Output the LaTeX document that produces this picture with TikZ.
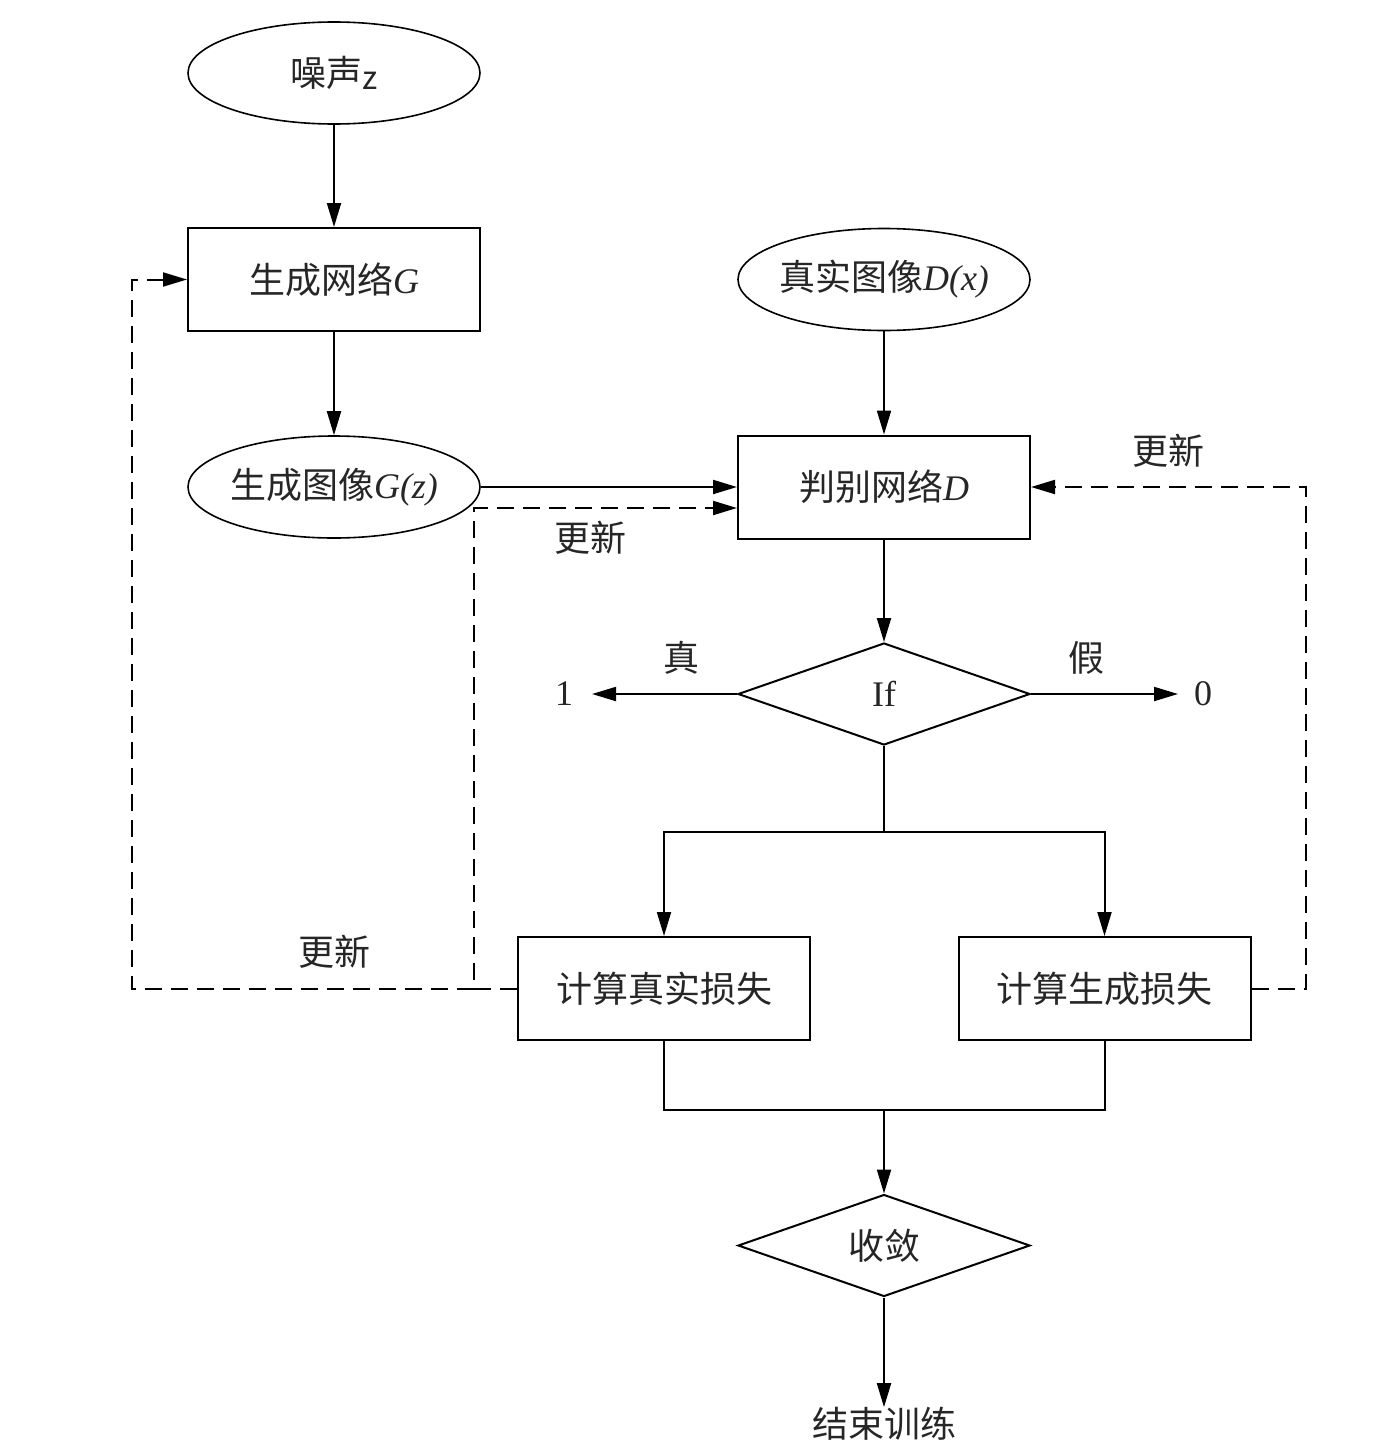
\documentclass[tikz,border=0pt]{standalone}
\usepackage{fontspec}
\setmainfont{Liberation Serif}
\newfontfamily\cjk{Noto Sans CJK SC}
\usetikzlibrary{shapes.geometric,arrows.meta}
\definecolor{txt}{gray}{0.15}
\begin{document}
\begin{tikzpicture}[x=1pt,y=-1pt,
  every node/.style={font=\fontsize{36}{42}\selectfont, text=txt},
  line/.style={line width=2pt},
  arr/.style={line, -{Triangle[length=24pt,width=14pt]}},
  dsh/.style={line, dash pattern=on 17pt off 9pt},
  darr/.style={dsh, -{Triangle[length=24pt,width=14pt]}},
  ell/.style={draw, line width=1.6pt, ellipse, minimum width=292pt, minimum height=102pt, inner sep=0pt, inner xsep=-4pt},
  box/.style={draw, line width=2pt, rectangle, minimum width=292pt, minimum height=103pt, inner sep=0pt},
  dia/.style={draw, line width=2pt, diamond, aspect=2.86, minimum width=292pt, minimum height=102pt, inner sep=0pt},
  lab/.style={inner sep=0pt}]
\useasboundingbox (0,0) rectangle (1380,1456);

\node[ell] (n) at (334,73) {{\cjk 噪声}{\cjk\fontsize{32}{38}\selectfont\raisebox{-3pt}{z}}};
\node[box] (g) at (334,279.5) {{\cjk 生成网络}\textit{G}};
\node[ell] (gz) at (334,487) {{\cjk 生成图像}\textit{G(z)}};
\node[ell] (dx) at (884,279.5) {{\cjk 真实图像}\textit{D(x)}};
\node[box] (j) at (884,487) {{\cjk 判别网络}\textit{D}};
\node[dia] (if) at (884,694) {If};
\node[box] (r) at (664,988.5) {\cjk 计算真实损失};
\node[box] (f) at (1104.5,988.5) {\cjk 计算生成损失};
\node[dia] (c) at (884,1245.5) {\cjk 收敛};
\node[lab] (e) at (884,1424) {\cjk 结束训练};

\node[lab] (one) at (564,694) {1};
\node[lab] (zero) at (1203,694) {0};
\node[lab] (lt) at (681,658) {\cjk 真};
\node[lab] (lf) at (1086,658) {\cjk 假};
\node[lab] (u1) at (590,538) {\cjk 更新};
\node[lab] (u2) at (334,952) {\cjk 更新};
\node[lab] (u3) at (1168,451) {\cjk 更新};

\coordinate (t1) at (592,694);
\coordinate (t0) at (1178,694);
\coordinate (b1) at (474,988.5);
\coordinate (b2) at (132,988.5);
\coordinate (b3) at (1306,988.5);
\coordinate (s) at (884,832);
\coordinate (m) at (884,1110);

\draw[arr] (n) -- (g);
\draw[arr] (g) -- (gz);
\draw[arr] (dx) -- (j);
\draw[arr] (gz.east) -- (j.west);
\draw[arr] (j) -- (if);
\draw[arr] (if.west) -- (t1);
\draw[arr] (if.east) -- (t0);
\draw[line] (if.south) -- (s);
\draw[arr] (s) -| (r.north);
\draw[arr] (s) -| (f.north);
\draw[line] (r.south) |- (m) -| (f.south);
\draw[arr] (m) -- (c.north);
\draw[arr] (c.south) -- (e.north);

\draw[darr] (r.west) -- (b1) |- ([yshift=-21pt]j.west);
\draw[darr] (b1) -- (b2) |- (g.west);
\draw[darr] (f.east) -- (b3) |- (j.east);
\end{tikzpicture}
\end{document}
